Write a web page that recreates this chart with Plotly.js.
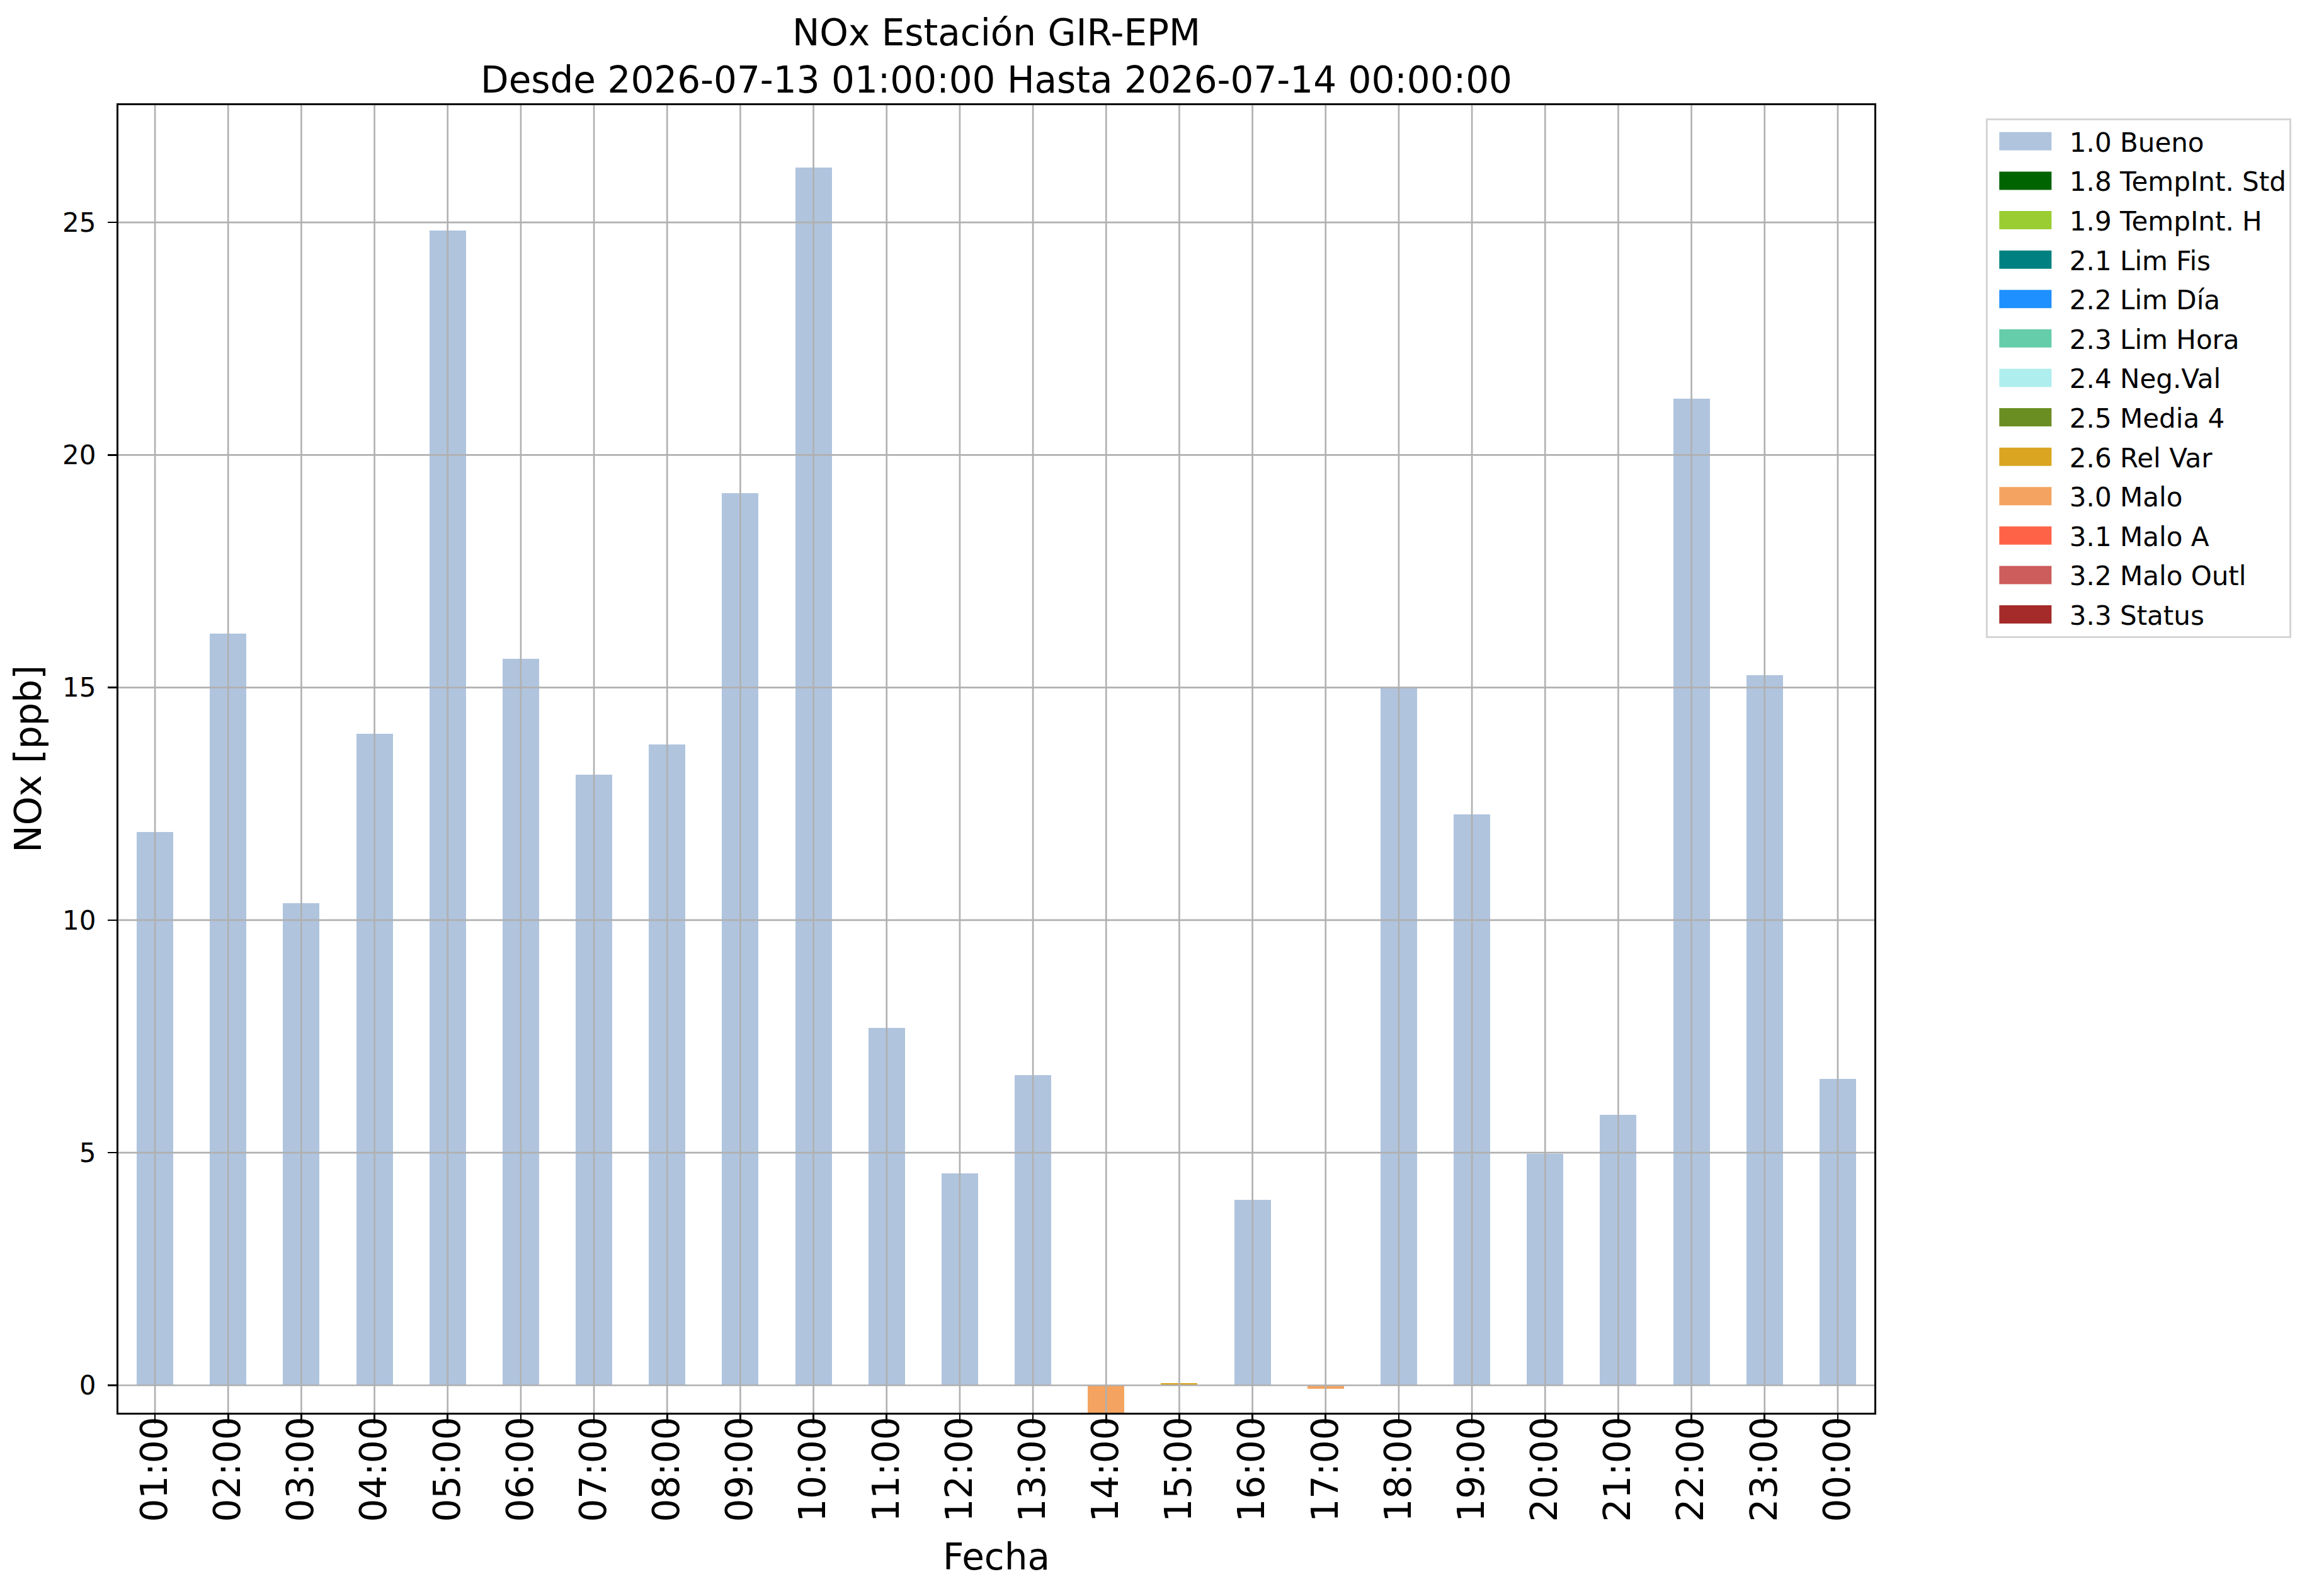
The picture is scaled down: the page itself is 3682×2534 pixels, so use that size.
<!DOCTYPE html>
<html>
<head>
<meta charset="utf-8">
<script src="https://cdn.plot.ly/plotly-3.0.1.min.js"></script>
<style>
  html, body { margin: 0; padding: 0; background: #ffffff; }
  #chart { width: 3682px; height: 2534px; }
</style>
</head>
<body>
<div id="chart"></div>
<script>
// hourly NOx values and their quality flag
var hours = ['01:00', '02:00', '03:00', '04:00', '05:00', '06:00', '07:00', '08:00',
             '09:00', '10:00', '11:00', '12:00', '13:00', '14:00', '15:00', '16:00',
             '17:00', '18:00', '19:00', '20:00', '21:00', '22:00', '23:00', '00:00'];

var nox = [11.90, 16.16, 10.36, 14.00, 24.82, 15.62, 13.13, 13.77,
           19.18, 26.18, 7.68, 4.55, 6.67, -0.59, 0.04, 3.99,
           -0.07, 14.98, 12.28, 4.98, 5.82, 21.21, 15.27, 6.58];

var flags = ['1.0', '1.0', '1.0', '1.0', '1.0', '1.0', '1.0', '1.0',
             '1.0', '1.0', '1.0', '1.0', '1.0', '3.0', '2.6', '1.0',
             '3.0', '1.0', '1.0', '1.0', '1.0', '1.0', '1.0', '1.0'];

var flagCodes = ['1.0', '1.8', '1.9', '2.1', '2.2', '2.3', '2.4', '2.5', '2.6', '3.0', '3.1', '3.2', '3.3'];

var flagNames = ['1.0 Bueno', '1.8 TempInt. Std', '1.9 TempInt. H', '2.1 Lim Fis', '2.2 Lim Día',
                 '2.3 Lim Hora', '2.4 Neg.Val', '2.5 Media 4', '2.6 Rel Var', '3.0 Malo',
                 '3.1 Malo A', '3.2 Malo Outl', '3.3 Status'];

var flagColors = ['#B0C4DE', '#006400', '#9ACD32', '#008080', '#1E90FF',
                  '#66CDAA', '#AFEEEE', '#6B8E23', '#DAA520', '#F4A460',
                  '#FF6347', '#CD5C5C', '#A52A2A'];

var yTicks = [0, 5, 10, 15, 20, 25];

var font = 'DejaVu Sans, sans-serif';
var gridColor = '#b0b0b0';

var data = flagCodes.map(function(code, k)
{
    return {
        type: 'bar',
        name: flagNames[k],
        legendgroup: code,
        x: hours,
        y: nox.map(function(v, i) { return flags[i] === code ? v : null; }),
        width: 0.5,
        marker: { color: flagColors[k], line: { width: 0 } },
        hoverinfo: 'x+y'
    };
});

// matplotlib draws the grid over the bars
var shapes = [];
yTicks.forEach(function(t)
{
    shapes.push({
        type: 'line', layer: 'above', xref: 'paper', yref: 'y',
        x0: 0, x1: 1, y0: t, y1: t,
        line: { color: gridColor, width: 2.6 }
    });
});
hours.forEach(function(h)
{
    shapes.push({
        type: 'line', layer: 'above', xref: 'x', yref: 'paper',
        x0: h, x1: h, y0: 0, y1: 1,
        line: { color: gridColor, width: 2.6 }
    });
});

var layout =
{
    width: 3682,
    height: 2534,
    paper_bgcolor: '#ffffff',
    plot_bgcolor: '#ffffff',
    font: { family: font, color: '#000000', size: 42 },
    barmode: 'relative',
    bargap: 0,
    showlegend: true,
    margin: { l: 188, r: 706, t: 167, b: 291, pad: 0 },
    title:
    {
        text: 'NOx Estación GIR-EPM<br>Desde 2026-07-13 01:00:00 Hasta 2026-07-14 00:00:00',
        font: { family: font, size: 58, color: '#000000' },
        xref: 'paper',
        x: 0.5,
        xanchor: 'center',
        yref: 'container',
        y: 1 - 72 / 2534,
        yanchor: 'top'
    },
    xaxis:
    {
        type: 'category',
        categoryorder: 'array',
        categoryarray: hours,
        range: [-0.5, 23.5],
        showgrid: false,
        zeroline: false,
        showline: true,
        mirror: true,
        linecolor: '#000000',
        linewidth: 2.6,
        ticks: 'outside',
        ticklen: 14.6,
        tickwidth: 2.6,
        tickcolor: '#000000',
        tickangle: -90,
        ticklabelstandoff: -34,
        tickfont: { family: font, size: 58, color: '#000000' },
        automargin: false
    },
    yaxis:
    {
        range: [-0.59, 27.52],
        tickvals: yTicks,
        ticktext: yTicks.map(String),
        showgrid: false,
        zeroline: false,
        showline: true,
        mirror: true,
        linecolor: '#000000',
        linewidth: 2.6,
        ticks: 'outside',
        ticklen: 14.6,
        tickwidth: 2.6,
        tickcolor: '#000000',
        ticklabelstandoff: 10,
        tickfont: { family: font, size: 42, color: '#000000' },
        automargin: false,
        title:
        {
            text: 'NOx [ppb]',
            font: { family: font, size: 58, color: '#000000' },
            standoff: 15
        }
    },
    annotations:
    [
        {
            text: 'Fecha',
            xref: 'paper',
            yref: 'paper',
            x: 0.5,
            y: -0.1103,
            xanchor: 'center',
            yanchor: 'middle',
            showarrow: false,
            font: { family: font, size: 58, color: '#000000' }
        }
    ],
    legend:
    {
        x: 1.0635,
        xanchor: 'left',
        y: 0.99,
        yanchor: 'top',
        bgcolor: '#ffffff',
        bordercolor: '#d5d5d5',
        borderwidth: 2.8,
        font: { family: font, size: 42, color: '#000000' },
        traceorder: 'grouped',
        tracegroupgap: 5,
        itemwidth: 120,
        itemclick: false,
        itemdoubleclick: false
    },
    shapes: shapes
};

var config = { displayModeBar: false, responsive: false, staticPlot: true };

var myPlot = document.getElementById('chart');

Plotly.newPlot(myPlot, data, layout, config).then(function()
{
    // wider, flatter legend patches like matplotlib's
    var pts = myPlot.querySelectorAll('.legend .legendpoints path');
    for (var i = 0; i < pts.length; i++)
    {
        pts[i].setAttribute('d', 'M36.5,14.5H-46.5V-14.5H36.5Z');
    }
});
</script>
</body>
</html>
